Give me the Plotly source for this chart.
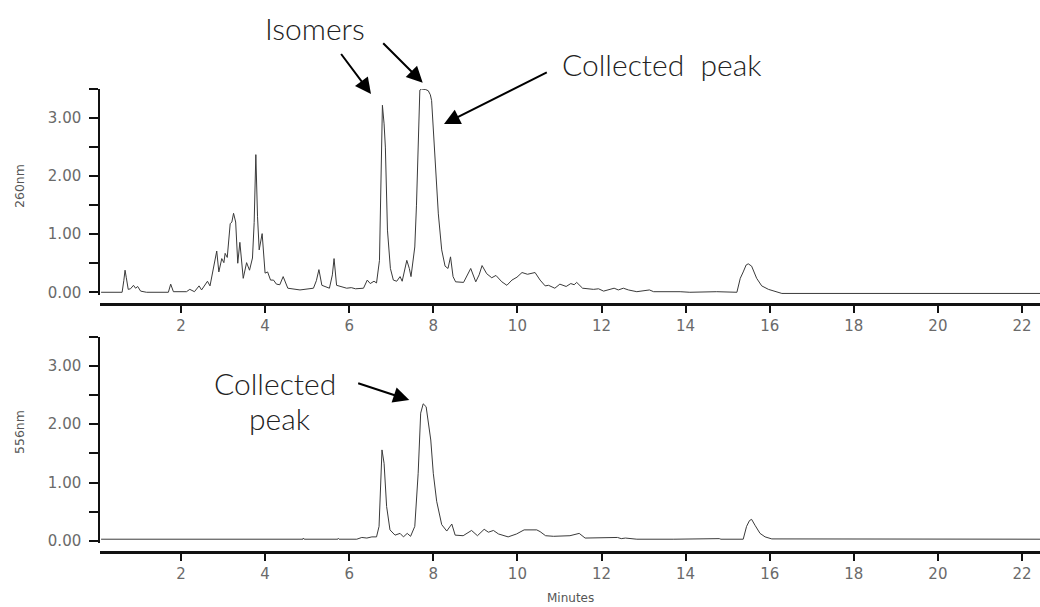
import plotly.graph_objects as go

# ---------------- data ----------------
t260 = [0.10, 0.60, 0.64, 0.67, 0.70, 0.745, 0.80, 0.87, 0.92, 0.97, 1.04, 1.18, 1.70, 1.755, 1.82,
        2.13, 2.21, 2.32, 2.43, 2.49, 2.63, 2.69, 2.85, 2.90, 2.97, 3.02, 3.05, 3.10, 3.17, 3.21,
        3.25, 3.30, 3.35, 3.40, 3.48, 3.56, 3.63, 3.70, 3.74, 3.78, 3.82, 3.86, 3.93, 4.00, 4.06,
        4.13, 4.20, 4.27, 4.35, 4.43, 4.54, 4.83, 5.15, 5.22, 5.28, 5.35, 5.53, 5.60, 5.64, 5.70,
        5.94, 6.05, 6.15, 6.34, 6.43, 6.50, 6.59, 6.65, 6.72, 6.75, 6.79, 6.83, 6.86, 6.91, 6.98,
        7.05, 7.13, 7.21, 7.26, 7.37, 7.43, 7.47, 7.56, 7.60, 7.64, 7.68, 7.72, 7.76, 7.82, 7.88,
        7.93, 7.96, 8.00, 8.06, 8.12, 8.20, 8.28, 8.35, 8.41, 8.47, 8.53, 8.72, 8.80, 8.89, 9.01,
        9.09, 9.16, 9.27, 9.39, 9.49, 9.63, 9.75, 9.87, 9.99, 10.11, 10.24, 10.42, 10.54, 10.66,
        10.74, 10.89, 11.01, 11.16, 11.27, 11.35, 11.41, 11.55, 11.81, 11.93, 12.05, 12.30, 12.40,
        12.52, 12.64, 12.84, 13.14, 13.24, 13.79, 13.87, 14.10, 14.74, 15.22, 15.30, 15.37, 15.44,
        15.49, 15.57, 15.69, 15.81, 15.97, 16.17, 16.29, 22.45]
a260 = [0.00, 0.00, 0.20, 0.38, 0.25, 0.05, 0.06, 0.12, 0.07, 0.10, 0.02, 0.00, 0.00, 0.14, 0.01,
        0.01, 0.05, 0.01, 0.11, 0.04, 0.19, 0.11, 0.71, 0.35, 0.58, 0.51, 0.67, 0.60, 1.18, 1.21,
        1.36, 1.21, 0.50, 0.86, 0.24, 0.51, 0.38, 0.59, 1.20, 2.37, 1.30, 0.73, 1.01, 0.33, 0.35,
        0.21, 0.21, 0.14, 0.13, 0.27, 0.07, 0.04, 0.07, 0.20, 0.39, 0.12, 0.07, 0.30, 0.58, 0.12,
        0.07, 0.08, 0.06, 0.07, 0.21, 0.15, 0.19, 0.16, 0.55, 1.60, 3.22, 2.90, 2.50, 1.07, 0.41,
        0.21, 0.19, 0.27, 0.19, 0.55, 0.41, 0.27, 0.78, 1.50, 2.50, 3.48, 3.50, 3.50, 3.49, 3.47,
        3.40, 3.30, 2.78, 1.93, 1.35, 0.73, 0.45, 0.41, 0.61, 0.27, 0.18, 0.17, 0.28, 0.41, 0.18,
        0.30, 0.46, 0.32, 0.25, 0.29, 0.18, 0.12, 0.21, 0.26, 0.34, 0.31, 0.34, 0.21, 0.11,
        0.12, 0.07, 0.14, 0.10, 0.15, 0.13, 0.17, 0.07, 0.05, 0.06, 0.02, 0.07, 0.04,
        0.07, 0.04, 0.01, 0.04, 0.01, 0.02, 0.01, 0.00, 0.01, 0.00, 0.24, 0.35, 0.47,
        0.49, 0.45, 0.24, 0.11, 0.05, 0.01, -0.02, -0.02]

t556 = [0.10, 4.90, 4.91, 4.93, 5.73, 5.74, 5.76, 6.18, 6.30, 6.42, 6.54, 6.65, 6.71, 6.745, 6.78,
        6.83, 6.89, 6.97, 7.09, 7.21, 7.29, 7.38, 7.46, 7.56, 7.64, 7.70, 7.76, 7.83, 7.88, 7.94,
        8.00, 8.08, 8.20, 8.32, 8.44, 8.52, 8.71, 8.91, 9.05, 9.21, 9.31, 9.43, 9.55, 9.78, 9.98,
        10.16, 10.46, 10.54, 10.67, 10.86, 11.25, 11.47, 11.61, 12.28, 12.38, 12.47, 12.57, 12.84,
        13.69, 13.72, 14.80, 14.84, 15.37, 15.45, 15.52, 15.57, 15.65, 15.77, 15.89, 16.05, 22.45]
a556 = [0.03, 0.03, 0.05, 0.03, 0.03, 0.045, 0.03, 0.03, 0.06, 0.05, 0.07, 0.07, 0.25, 0.90, 1.56,
        1.33, 0.59, 0.19, 0.10, 0.13, 0.07, 0.13, 0.08, 0.25, 1.16, 2.19, 2.35, 2.30, 2.07, 1.73,
        1.16, 0.68, 0.28, 0.17, 0.29, 0.10, 0.09, 0.18, 0.09, 0.20, 0.15, 0.18, 0.12, 0.07, 0.12,
        0.19, 0.19, 0.16, 0.09, 0.08, 0.09, 0.13, 0.05, 0.05, 0.06, 0.04, 0.05, 0.03,
        0.04, 0.03, 0.04, 0.03, 0.03, 0.25, 0.35, 0.37, 0.27, 0.13, 0.07, 0.035, 0.03]

x_tick_vals = [2, 4, 6, 8, 10, 12, 14, 16, 18, 20, 22]
x_tick_text = ["2", "4", "6", "8", "10", "12", "14", "16", "18", "20", "22"]
y_tick_vals = [0, 0.5, 1.0, 1.5, 2.0, 2.5, 3.0, 3.5]
y_tick_text = ["0.00", "", "1.00", "", "2.00", "", "3.00", ""]

# ---------------- layout helpers ----------------
W, H = 1040, 607
ML, MR, MT, MB = 100, 0, 89, 55
PW, PH = W - ML - MR, H - MT - MB


def px2x(px):
    return (px - ML) / PW


def py2y(py):
    return (H - MB - py) / PH


LINE = "#3a3a3a"
AX = "#111111"
TICKFONT = dict(family="DejaVu Sans", size=15, color="#6a6a6a")
ANNFONT = dict(family="Lato Light, Lato, Liberation Sans, Arial", size=30, color="#222222", weight=300)

# pad y tick labels away from the ticks
y_tick_labels = [s + "\u00a0" if s else s for s in y_tick_text]

fig = go.Figure()
fig.add_trace(go.Scatter(x=t260, y=a260, mode="lines", xaxis="x", yaxis="y",
                         line=dict(color=LINE, width=1), showlegend=False, hoverinfo="skip"))
fig.add_trace(go.Scatter(x=t556, y=a556, mode="lines", xaxis="x2", yaxis="y2",
                         line=dict(color=LINE, width=1), showlegend=False, hoverinfo="skip"))

xcommon = dict(range=[0.074, 22.428], domain=[0, 1], anchor="free", showgrid=False, zeroline=False,
               showline=True, linecolor=AX, linewidth=3, ticks="outside", ticklen=7, tickwidth=2,
               tickcolor=AX, tickvals=x_tick_vals, ticktext=x_tick_text, tickfont=TICKFONT)
ycommon = dict(range=[-0.04, 3.5], showgrid=False, zeroline=False, showline=True, linecolor=AX,
               linewidth=2, ticks="outside", ticklen=9, tickwidth=2, tickcolor=AX,
               tickvals=y_tick_vals, ticktext=y_tick_labels, tickfont=TICKFONT)

fig.update_layout(
    width=W, height=H, margin=dict(l=ML, r=MR, t=MT, b=MB),
    paper_bgcolor="white", plot_bgcolor="white",
    xaxis=dict(xcommon, position=py2y(304)),
    xaxis2=dict(xcommon, position=py2y(552)),
    yaxis=dict(ycommon, domain=[py2y(294.6), 1.0], anchor="x"),
    yaxis2=dict(ycommon, domain=[py2y(543.3), py2y(336.7)], anchor="x2"),
)

ann = []
# axis labels
ann.append(dict(text="260nm", x=px2x(19), y=py2y(186), xref="paper", yref="paper", showarrow=False,
                textangle=-90, font=dict(family="DejaVu Sans", size=12.5, color="#555555"),
                xanchor="center", yanchor="middle"))
ann.append(dict(text="556nm", x=px2x(19), y=py2y(432), xref="paper", yref="paper", showarrow=False,
                textangle=-90, font=dict(family="DejaVu Sans", size=12.5, color="#555555"),
                xanchor="center", yanchor="middle"))
ann.append(dict(text="Minutes", x=px2x(570), y=py2y(598), xref="paper", yref="paper", showarrow=False,
                font=dict(family="DejaVu Sans", size=12, color="#555555"),
                xanchor="center", yanchor="middle"))
# texts
ann.append(dict(text="Isomers", x=px2x(315), y=py2y(28), xref="paper", yref="paper", showarrow=False,
                font=ANNFONT, xanchor="center", yanchor="middle"))
ann.append(dict(text="Collected\u00a0 peak", x=px2x(661), y=py2y(64), xref="paper", yref="paper",
                showarrow=False, font=ANNFONT, xanchor="center", yanchor="middle"))
ann.append(dict(text="Collected", x=px2x(275), y=py2y(383), xref="paper", yref="paper", showarrow=False,
                font=ANNFONT, xanchor="center", yanchor="middle"))
ann.append(dict(text="peak", x=px2x(279), y=py2y(418), xref="paper", yref="paper", showarrow=False,
                font=ANNFONT, xanchor="center", yanchor="middle"))


def arrow(tip, tail):
    return dict(text="", x=px2x(tip[0]), y=py2y(tip[1]), xref="paper", yref="paper",
                showarrow=True, arrowhead=2, arrowsize=1.6, arrowwidth=2, arrowcolor="#000000",
                ax=tail[0] - tip[0], ay=tail[1] - tip[1], standoff=0, startstandoff=0)


ann.append(arrow((371, 94), (340, 52.5)))
ann.append(arrow((422.7, 82.7), (381.7, 41.7)))
ann.append(arrow((444, 124), (548.3, 71.7)))
ann.append(arrow((409.3, 400), (356.7, 382.7)))

fig.update_layout(annotations=ann)
fig.write_html("out.html")
